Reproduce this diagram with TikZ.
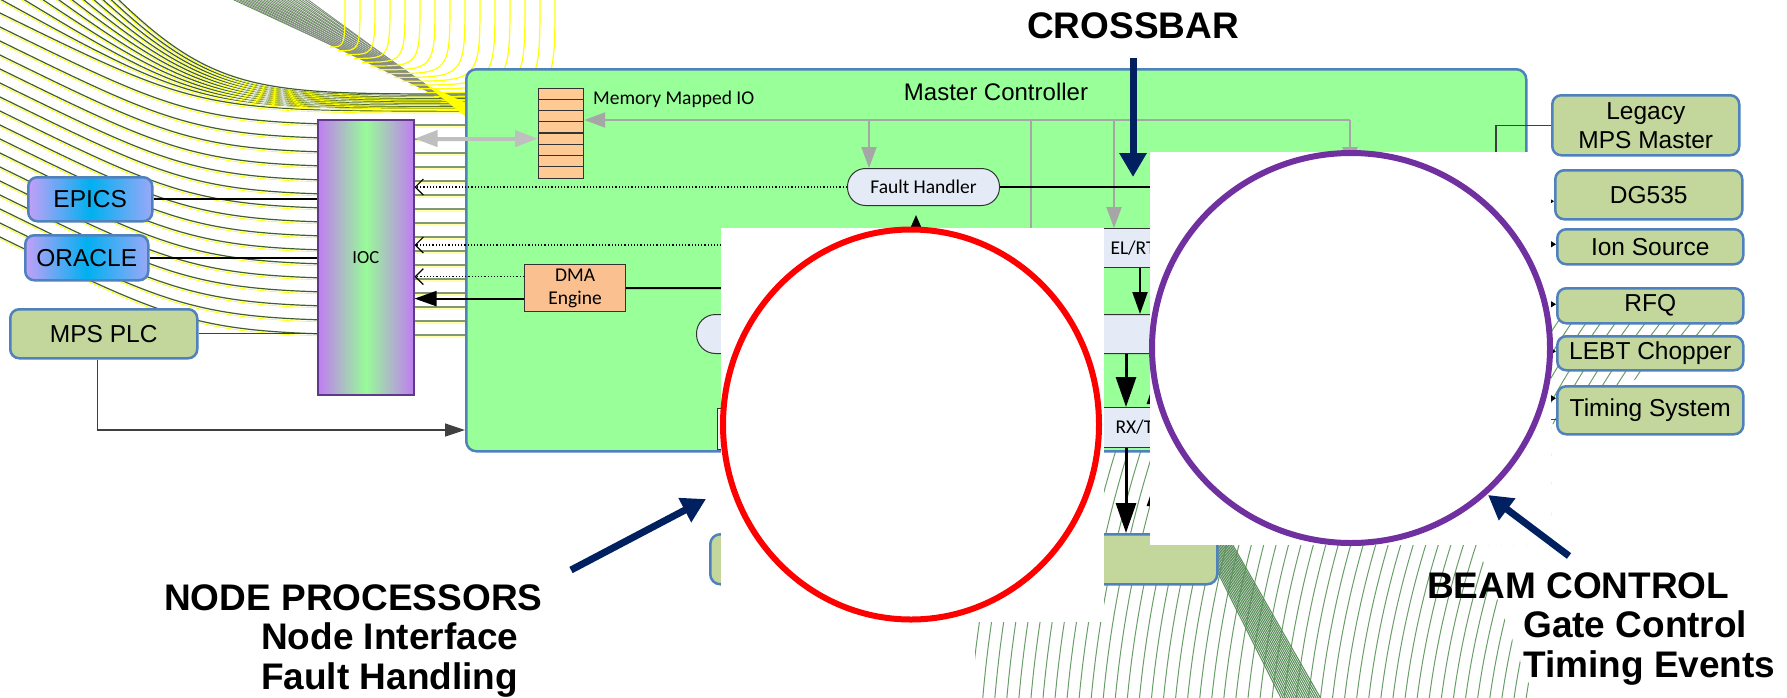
\documentclass[tikz,border=0pt]{standalone}
\usepackage{fontspec}
\setmainfont{Liberation Sans}
\newfontfamily\calfont{Carlito}
\usetikzlibrary{arrows.meta,positioning}
\definecolor{mcfill}{HTML}{99FF99}
\definecolor{mcstroke}{HTML}{4F81BD}
\definecolor{regfill}{HTML}{FFC993}
\definecolor{dmafill}{HTML}{FAC090}
\definecolor{iffill}{HTML}{E4EBF6}
\definecolor{devfill}{HTML}{C3D69B}
\definecolor{navy}{HTML}{002060}
\definecolor{ringred}{HTML}{FF0000}
\definecolor{ringpur}{HTML}{7030A0}
\definecolor{busgray}{HTML}{A6A6A6}
\definecolor{dblgray}{HTML}{BFBFBF}
\definecolor{iocpur}{HTML}{C07CF2}
\definecolor{iocgreen}{HTML}{98FB98}
\definecolor{iocstroke}{HTML}{5F3A8A}
\definecolor{swpur}{HTML}{C3A0F8}
\definecolor{swcyan}{HTML}{00B0F0}
\definecolor{swperi}{HTML}{9AA8F8}
\definecolor{swirldark}{HTML}{3F5F2F}
\definecolor{swirlyel}{HTML}{FFFF00}
\definecolor{swirlgray}{HTML}{8C8C8C}
\definecolor{fangreen}{HTML}{5F9050}
\definecolor{arcgreen}{HTML}{6A9D6A}
\definecolor{banddark}{HTML}{5B8F5B}
\tikzset{
  mcbox/.style={draw=mcstroke, fill=mcfill, line width=2.5pt,
                rounded corners=10pt, anchor=north west, inner sep=0pt},
  devbox/.style={draw=mcstroke, fill=devfill, line width=2.5pt,
                 rounded corners=9pt, anchor=north west, inner sep=0pt,
                 align=center, font=\fontsize{24.5}{29}\selectfont},
  swbox/.style={devbox, left color=swpur, right color=swperi,
                middle color=swcyan},
  iocbox/.style={draw=iocstroke, line width=1.5pt, anchor=north west,
                 left color=iocpur, right color=iocpur, middle color=iocgreen,
                 font=\calfont\fontsize{18.5}{22}\selectfont},
  regbox/.style={draw=black!80, fill=regfill, line width=1.2pt,
                 anchor=north west, inner sep=0pt},
  regline/.style={draw=black!80, line width=1.2pt},
  calfnt/.style={font=\calfont\fontsize{19.5}{23}\selectfont},
  ifbox/.style={calfnt, draw=black!80, fill=iffill, line width=1pt,
                anchor=north west, inner sep=0pt},
  ifpill/.style={ifbox, rounded corners=18pt},
  dmabox/.style={calfnt, draw=black!80, fill=dmafill, line width=1.2pt,
                 anchor=north west, inner sep=0pt, align=center},
  sliverbox/.style={draw=black!80, fill=black!5, line width=1pt,
                    anchor=north west},
  nodebox/.style={draw=mcstroke, fill=devfill, line width=2.5pt,
                  rounded corners=10pt, anchor=north west},
  biglabel/.style={font=\fontsize{37}{40}\selectfont\bfseries, inner sep=0pt},
  wire/.style={draw=black, line width=2pt},
  thinwire/.style={draw=black!75, line width=1.3pt},
  plcarrow/.style={thinwire, -{Triangle[length=20pt,width=13pt]}},
  dblarrow/.style={draw=dblgray, line width=4pt,
                   {Triangle[length=23pt,width=16pt]}-{Triangle[length=23pt,width=16pt]}},
  busline/.style={draw=busgray, line width=2pt},
  busarrow/.style={busline, -{Triangle[length=21pt,width=15pt]}},
  dotarrow/.style={draw=black, dotted, line width=1.2pt,
                   -{Straight Barb[length=8pt,width=16pt]}},
  blkarrow/.style={draw=black, line width=2pt, -{Triangle[length=22pt,width=15pt]}},
  tinyarrow/.style={draw=black, line width=1.5pt, -{Triangle[length=12pt,width=10pt]}},
  bigarrow/.style={draw=black, line width=3pt, -{Triangle[length=30pt,width=20pt]}},
  smallarrow/.style={draw=black, line width=1pt, -{Triangle[length=5pt,width=6pt]}},
  navyarrow/.style={draw=navy, line width=7pt, -{Triangle[length=24pt,width=26pt]}},
  ring/.style={line width=6pt},
  swirllo/.style={draw=swirldark, line width=1.2pt},
  swirlhi/.style={draw=swirlyel, line width=0.7pt},
  fanline/.style={draw=fangreen, line width=0.9pt},
  fangray/.style={draw=swirlgray, line width=0.9pt},
  arcyel/.style={draw=swirlyel, line width=1.2pt},
  arcline/.style={draw=arcgreen, line width=1pt},
  bandline/.style={draw=banddark, line width=1.1pt}
}

\begin{document}
\begin{tikzpicture}[x=1pt, y=-1pt]
  \useasboundingbox (0,0) rectangle (1787,697);

  % ===== background swirls =====
  \begin{scope}
    \clip (0,0) rectangle (1787,697);
    \foreach \i in {0,...,26}{
      \pgfmathsetmacro{\yl}{237-14*\i}
      \pgfmathsetmacro{\yr}{max(335-14*\i, 110-(\i-16)*1.6)}
      \draw[swirlhi] (0,{\yl+2}) .. controls (200,{\yr+2}) .. (465,{\yr+2});
      \draw[swirllo] (0,\yl) .. controls (200,\yr) .. (465,\yr);
    }
    \foreach \j in {0,...,12}{
      \draw[fanline] ({232+\j*6},-1) -- (463,{106+\j*0.4});
      \draw[fangray] ({235+\j*6},-1) -- (463,{108+\j*0.4});
    }
    \fill[swirlyel] (425,84) -- (466,103) -- (466,117) -- cycle;
    \foreach \k in {0,...,14}
      \draw[arcyel] ({345+\k*15},-2) .. controls ({345+\k*15},{47+\k*3.8}) .. ({330+\k*8},{47+\k*3.8});
  \end{scope}
  \begin{scope}
    \clip (975,700) -- (975,320) -- (1745,320) -- (1551,425) -- (1551,545)
          -- (1477,545) -- (1535,700) -- cycle;
    \foreach \r in {700,712,...,1330}
      \draw[arcline] (2290,810) ++(-192:\r) arc[start angle=-192, end angle=-130, radius=\r];
    \foreach \j in {0,...,18}
      \draw[bandline] ({1204+\j*1.6},545) -- ({1282+\j*2.2},700);
  \end{scope}

  % ===== master controller =====
  \node[mcbox, minimum width=1060pt, minimum height=382pt] (mc) at (465,68) {};
  \node[font=\fontsize{24}{28}\selectfont, anchor=base, inner sep=0pt] (mctitle) at (996,100) {Master Controller};

  \node[regbox, minimum width=45pt, minimum height=90pt] (reg) at (538,88) {};
  \foreach \k in {1,...,7}
    \draw[regline] ([yshift=-\k*11.25pt]reg.north west) -- ([yshift=-\k*11.25pt]reg.north east);
  \node[calfnt, anchor=base west, inner sep=0pt] (regtxt) at (593,104) {Memory Mapped IO};

  \node[ifpill, minimum width=152pt, minimum height=37pt] (fh) at (847,168) {Fault Handler};
  \node[dmabox, minimum width=101pt, minimum height=47pt] (dma) at (524,264) {DMA\\Engine};
  \node[ifbox, minimum width=160pt, minimum height=39pt, text width=120pt,
        inner xsep=20pt, align=left] (elrt) at (1090,228) {EL/RT};
  \node[ifbox, rounded corners=19pt, minimum width=604pt, minimum height=39pt] (mid) at (696,314) {};
  \node[ifbox, minimum width=160pt, minimum height=40pt, text width=110pt,
        inner xsep=25pt, align=left] (rxt) at (1090,407) {RX/T};
  \node[sliverbox, minimum width=80pt, minimum height=41pt] (nif) at (717,408) {};
  \node[nodebox, minimum width=507pt, minimum height=50pt] (npbox) at (709,533) {};

  % ===== left side =====
  \node[iocbox, minimum width=96pt, minimum height=275pt] (ioc) at (317,119) {IOC};
  \node[swbox, minimum width=124pt, minimum height=44pt] (epics) at (27,176) {EPICS};
  \node[swbox, minimum width=123pt, minimum height=45pt] (oracle) at (24,234) {ORACLE};
  \node[devbox, minimum width=187pt, minimum height=49pt] (mpsplc) at (9,308) {MPS PLC};

  % ===== right side devices =====
  \node[devbox, minimum width=187pt, minimum height=60pt] (legacy) at (1551,94) {Legacy\\MPS Master};
  \node[devbox, minimum width=187pt, minimum height=49pt] (dg) at (1554,169) {DG535};
  \node[devbox, minimum width=186pt, minimum height=35pt] (ion) at (1556,228) {Ion Source};
  \node[devbox, minimum width=186pt, minimum height=35pt] (rfq) at (1556,287) {RFQ};
  \node[devbox, minimum width=186pt, minimum height=34pt] (lebt) at (1556,335) {LEBT Chopper};
  \node[devbox, minimum width=186pt, minimum height=48pt] (timing) at (1556,385) {Timing System};

  % ===== connectors =====
  \draw[wire] (epics.east) -- (epics.east -| ioc.west);
  \draw[wire] (oracle.east) -- (oracle.east -| ioc.west);
  \draw[thinwire] (mpsplc.east) -- (mpsplc.east -| ioc.west);
  \coordinate (plcin) at (465,430);
  \draw[plcarrow] ([xshift=-6pt]mpsplc.south) |- (plcin);

  \coordinate (regin) at ([yshift=-5pt]reg.west);
  \draw[dblarrow] (regin -| ioc.east) -- (regin);

  \coordinate (busend) at (1350,120);
  \draw[busarrow] (busend) -- (busend -| reg.east);
  \coordinate (tapfh) at (869,120);
  \draw[busarrow] (tapfh) -- (tapfh |- fh.north);
  \coordinate (tapmid) at (1031,120);
  \draw[busline] (tapmid) -- (tapmid |- mid.north);
  \coordinate (tapel) at (1114,120);
  \draw[busarrow] (tapel) -- (tapel |- elrt.north);
  \coordinate (hidtip) at (1350,168);
  \draw[busarrow] (busend) -- (hidtip);

  \draw[dotarrow] (fh.west) -- (fh.west -| ioc.east);
  \coordinate (dotsrc) at (760,245);
  \draw[dotarrow] (dotsrc) -- (dotsrc -| ioc.east);
  \coordinate (dmatop) at ([yshift=11.5pt]dma.west);
  \draw[dotarrow] (dmatop) -- (dmatop -| ioc.east);
  \coordinate (dmalow) at ([yshift=-10.5pt]dma.west);
  \draw[blkarrow] (dmalow) -- (dmalow -| ioc.east);

  \coordinate (dmaout) at (760,288);
  \draw[wire] (dma.east) -- (dmaout);
  \coordinate (fhout) at (1200,187);
  \draw[wire] (fh.east) -- (fhout);
  \coordinate (fhin) at (916,260);
  \coordinate (fhtip) at (916,215);
  \draw[tinyarrow] (fhin) -- (fhtip);

  \coordinate (colA) at (1140,0);
  \draw[blkarrow] (elrt.south -| colA) -- (mid.north -| colA);
  \coordinate (colB) at (1126,0);
  \draw[bigarrow] (mid.south -| colB) -- (rxt.north -| colB);
  \draw[bigarrow] (rxt.south -| colB) -- (npbox.north -| colB);
  \coordinate (upA) at (1157,374);
  \draw[bigarrow] (rxt.north -| upA) -- (upA);
  \coordinate (upB) at (1157,476);
  \draw[bigarrow] (npbox.north -| upB) -- (upB);

  \coordinate (legdn) at (1496,170);
  \draw[thinwire] (legacy.west) -| (legdn);
  \coordinate (stub) at (1530,0);
  \foreach \b/\dy in {dg/-6.5, ion/2.5, rfq/1.5, lebt/2, timing/12}{
    \coordinate (tip) at ([yshift=\dy]\b.west);
    \draw[smallarrow] (tip -| stub) -- (tip);
  }
  \coordinate (tlow) at ([yshift=-9]timing.west);
  \draw[thinwire] (tlow -| stub) -- (tlow);

  % ===== highlight rings =====
  \fill[white] (721,228) rectangle (1104,622);
  \draw[ring, ringred] (911,424.5) ellipse [x radius=188pt, y radius=195pt];
  \fill[white] (1150,152) rectangle (1551,545);
  \draw[ring, ringpur] (1351,348) ellipse [x radius=199pt, y radius=195pt];

  % ===== call-outs =====
  \node[biglabel, anchor=base] (crossbar) at (1133,38) {CROSSBAR};
  \coordinate (cbtip) at (1133,177);
  \draw[navyarrow, shorten <=19pt] (crossbar.south) -- (cbtip);

  \node[biglabel, anchor=base west] (np1) at (164,610) {NODE PROCESSORS};
  \node[biglabel, anchor=base west] (np2) at (261,649) {Node Interface};
  \node[biglabel, anchor=base west] (np3) at (261,689) {Fault Handling};
  \coordinate (nptail) at (571,570);
  \coordinate (nptip) at (706,499);
  \draw[navyarrow] (nptail) -- (nptip);

  \node[biglabel, anchor=base west] (bc1) at (1427,598) {BEAM CONTROL};
  \node[biglabel, anchor=base west] (bc2) at (1523,637) {Gate Control};
  \node[biglabel, anchor=base west] (bc3) at (1523,677) {Timing Events};
  \coordinate (bctail) at (1569,556);
  \coordinate (bctip) at (1488,495);
  \draw[navyarrow] (bctail) -- (bctip);
\end{tikzpicture}
\end{document}
